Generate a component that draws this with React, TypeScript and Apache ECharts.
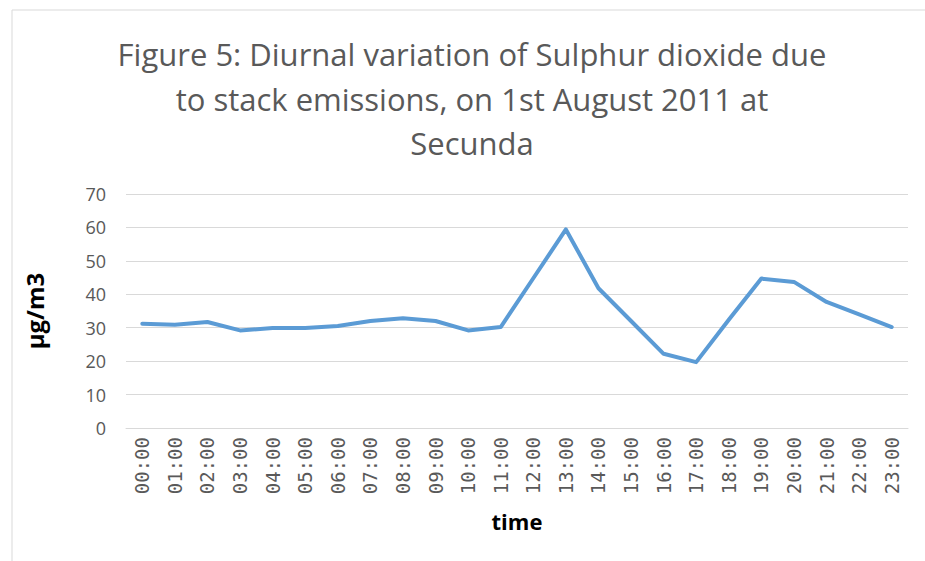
import React, { useEffect, useRef } from "react";
import * as echarts from "echarts";

const categories = ["00:00","01:00","02:00","03:00","04:00","05:00","06:00","07:00","08:00","09:00","10:00","11:00","12:00","13:00","14:00","15:00","16:00","17:00","18:00","19:00","20:00","21:00","22:00","23:00"];
const so2Values = [31.2, 30.9, 31.7, 29.2, 29.9, 29.9, 30.5, 32.0, 32.8, 32.0, 29.2, 30.2, 44.8, 59.4, 41.8, 32.0, 22.2, 19.7, 32.4, 44.7, 43.7, 37.7, 34.0, 30.2];
const titleLines = ["Figure 5: Diurnal variation of Sulphur dioxide due", "to stack emissions, on 1st August 2011 at", "Secunda"];

export default function App() {
  const ref = useRef<HTMLDivElement>(null);
  useEffect(() => {
    if (!ref.current) return;
    const chart = echarts.init(ref.current, null, { renderer: "svg" });
    const font = "'Open Sans', sans-serif";
    chart.setOption({
      animation: false,
      backgroundColor: "#ffffff",
      graphic: [
        { type: "rect", shape: { x: 12, y: 10, width: 1000, height: 1000 }, style: { fill: "none", stroke: "#d9d9d9", lineWidth: 1 }, silent: true },
        { type: "text", x: 472, y: 32, style: { text: titleLines.join("\n"), textAlign: "center", textVerticalAlign: "top", fontFamily: font, fontSize: 31, lineHeight: 44.5, fill: "#595959" } },
      ],
      grid: { left: 126, right: 17, top: 194, bottom: 133, containLabel: false },
      xAxis: {
        type: "category",
        data: categories,
        boundaryGap: true,
        name: "time",
        nameLocation: "middle",
        nameGap: 82,
        nameTextStyle: { fontFamily: font, fontSize: 22, fontWeight: "bold", color: "#000000" },
        axisLine: { lineStyle: { color: "#d9d9d9", width: 1 } },
        axisTick: { show: false },
        axisLabel: { rotate: 90, interval: 0, margin: 9, fontFamily: "'DejaVu Sans Mono', monospace", fontSize: 19, color: "#595959" },
      },
      yAxis: {
        type: "value",
        min: 0,
        max: 70,
        interval: 10,
        name: "µg/m3",
        nameLocation: "middle",
        nameGap: 80,
        nameRotate: 90,
        nameTextStyle: { fontFamily: font, fontSize: 24, fontWeight: "bold", color: "#000000" },
        axisLine: { show: false },
        axisTick: { show: false },
        splitLine: { lineStyle: { color: "#d9d9d9", width: 1 } },
        axisLabel: { margin: 20, fontFamily: font, fontSize: 18, color: "#595959" },
      },
      series: [
        {
          type: "line",
          data: so2Values,
          symbol: "none",
          lineStyle: { color: "#5b9bd5", width: 4, cap: "round", join: "round" },
        },
      ],
    });
    return () => chart.dispose();
  }, []);
  return <div ref={ref} style={{ position: "fixed", left: 0, top: 0, width: 925, height: 561 }} />;
}
